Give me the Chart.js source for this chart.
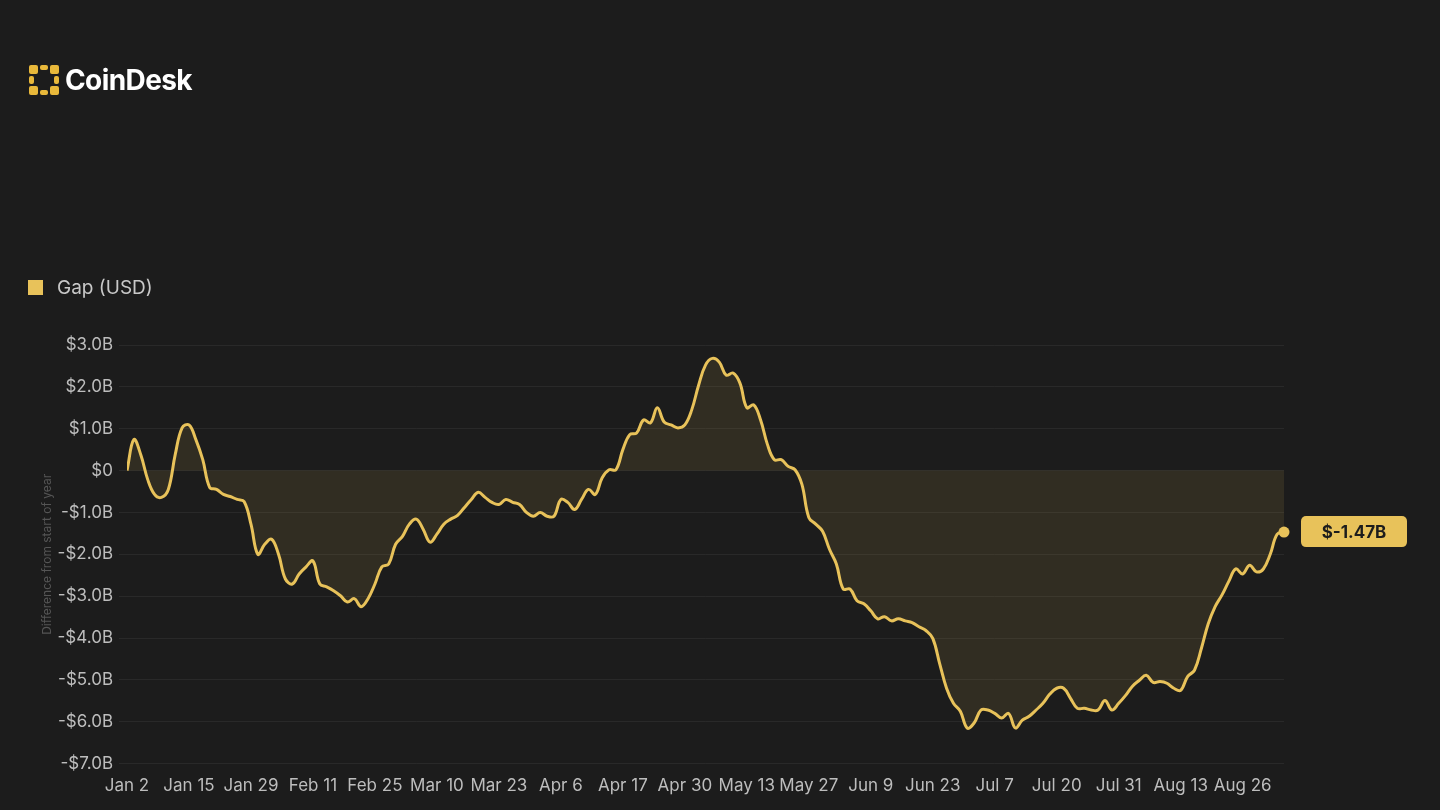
<!DOCTYPE html>
<html><head><meta charset="utf-8">
<script src="https://cdn.jsdelivr.net/npm/chart.js@4"></script>
<style>
html,body{margin:0;padding:0;background:#1c1c1c;width:1440px;height:810px;overflow:hidden;font-family:Inter,"Noto Sans",sans-serif}
#logo{position:absolute;left:27px;top:63px;display:flex;align-items:center;color:#fff;font-weight:700;font-size:28px;letter-spacing:-0.6px}
#legend{position:absolute;left:28px;top:276px;display:flex;align-items:center;color:#c8c8c8;font-size:19px}
#legend span.sq{width:15px;height:15px;background:#e8c25a;margin-right:14px;display:inline-block}
#wrap{position:absolute;left:0;top:0;width:1440px;height:810px}
</style></head><body>
<div id="wrap"><canvas id="c"></canvas></div>
<div id="logo"><svg width="34" height="34" viewBox="0 0 34 34" style="margin-right:4px"><g fill="#e8b83a"><rect x="2" y="2" width="9" height="9" rx="2"/><rect x="13" y="2" width="8" height="5" rx="2"/><rect x="23" y="2" width="9" height="9" rx="2"/><rect x="2" y="13" width="5" height="8" rx="2"/><rect x="27" y="13" width="5" height="8" rx="2"/><rect x="2" y="23" width="9" height="9" rx="2"/><rect x="13" y="27" width="8" height="5" rx="2"/><rect x="23" y="23" width="9" height="9" rx="2"/></g></svg>CoinDesk</div>
<div id="legend"><span class="sq"></span>Gap (USD)</div>
<script>
const tickLabels=["Jan 2","Jan 15","Jan 29","Feb 11","Feb 25","Mar 10","Mar 23","Apr 6","Apr 17","Apr 30","May 13","May 27","Jun 9","Jun 23","Jul 7","Jul 20","Jul 31","Aug 13","Aug 26"];
const gapValues=[0,0.74,0.38,-0.21,-0.57,-0.64,-0.45,0.38,1.02,1.09,0.74,0.26,-0.40,-0.45,-0.57,-0.62,-0.69,-0.74,-1.28,-2.00,-1.76,-1.64,-2.00,-2.59,-2.71,-2.47,-2.30,-2.16,-2.71,-2.78,-2.87,-2.99,-3.14,-3.06,-3.25,-3.06,-2.71,-2.30,-2.23,-1.76,-1.57,-1.28,-1.16,-1.40,-1.71,-1.52,-1.28,-1.16,-1.07,-0.88,-0.69,-0.52,-0.64,-0.76,-0.81,-0.69,-0.76,-0.81,-1.00,-1.09,-1.00,-1.09,-1.09,-0.69,-0.76,-0.93,-0.69,-0.45,-0.57,-0.17,0.02,0.02,0.50,0.86,0.90,1.21,1.14,1.50,1.16,1.09,1.02,1.09,1.45,2.04,2.52,2.68,2.59,2.28,2.33,2.09,1.50,1.57,1.21,0.62,0.26,0.26,0.10,0.02,-0.33,-1.12,-1.28,-1.45,-1.88,-2.23,-2.83,-2.83,-3.11,-3.18,-3.35,-3.54,-3.49,-3.59,-3.54,-3.59,-3.63,-3.73,-3.82,-4.01,-4.61,-5.20,-5.56,-5.75,-6.15,-6.03,-5.72,-5.72,-5.80,-5.91,-5.80,-6.15,-5.96,-5.87,-5.72,-5.56,-5.34,-5.20,-5.20,-5.44,-5.68,-5.68,-5.72,-5.72,-5.49,-5.72,-5.56,-5.37,-5.15,-5.01,-4.89,-5.06,-5.04,-5.08,-5.20,-5.25,-4.92,-4.77,-4.25,-3.66,-3.25,-2.97,-2.64,-2.35,-2.47,-2.26,-2.42,-2.35,-2.00,-1.52,-1.47];
const tickEvery=9;
const N=gapValues.length;
const pts=gapValues.map((v,i)=>({x:i*168/(N-1),y:v}));
const lastLabel={id:'lastLabel',afterDatasetsDraw(ch){
  const m=ch.getDatasetMeta(0);const p=m.data[m.data.length-1];const ctx=ch.ctx;
  ctx.save();ctx.fillStyle='#e8c25a';ctx.beginPath();ctx.arc(p.x,p.y,5.5,0,Math.PI*2);ctx.fill();
  const bx=p.x+17,by=p.y-16,w=106,h=31;
  ctx.beginPath();ctx.roundRect(bx,by,w,h,5);ctx.fill();
  ctx.fillStyle='#1c1c1c';ctx.font='bold 17px Inter';ctx.textAlign='center';ctx.textBaseline='middle';
  ctx.fillText('$'+gapValues[N-1].toFixed(2)+'B',bx+w/2,by+h/2+1);ctx.restore();}};
new Chart(document.getElementById('c'),{type:'line',
 data:{datasets:[{data:pts,borderColor:'#e8c25a',borderWidth:3,pointRadius:0,tension:0.4,
   fill:{target:'origin',above:'rgba(232,194,90,0.10)',below:'rgba(232,194,90,0.10)'}}]},
 options:{responsive:true,maintainAspectRatio:false,animation:false,
  layout:{padding:{top:345,right:156,bottom:10,left:40}},
  plugins:{legend:{display:false},tooltip:{enabled:false}},
  scales:{
   x:{type:'linear',min:0,max:168,grid:{display:false},border:{display:false},
     afterBuildTicks(s){s.ticks=tickLabels.map((t,i)=>({value:i*tickEvery}));},
     ticks:{color:'#bdbdbd',font:{size:17,family:'Inter'},maxRotation:0,autoSkip:false,padding:4,
       callback:(v)=>tickLabels[Math.round(v/tickEvery)]}},
   y:{min:-7,max:3,grid:{color:'rgba(255,255,255,0.06)'},border:{display:false},
     afterFit(s){s.width=87;},
     ticks:{stepSize:1,color:'#bdbdbd',font:{size:17,family:'Inter'},padding:6,
       callback:(v)=>v===0?'$0':(v<0?'-$':'$')+Math.abs(v).toFixed(1)+'B'},
     title:{display:true,text:'Difference from start of year',color:'#555',font:{size:12,family:'Inter'},padding:0}}
  }},plugins:[lastLabel]});
</script></body></html>
